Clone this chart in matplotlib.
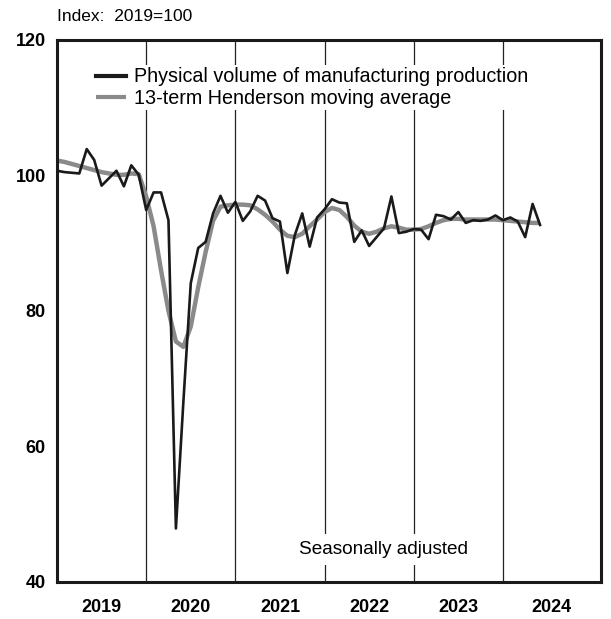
import numpy as np
import matplotlib
matplotlib.use('Agg')
import matplotlib.pyplot as plt

plt.rcParams['font.family'] = ['Liberation Sans', 'DejaVu Sans']

# monthly index, Jan 2019 .. Jun 2024
production = [100.7, 100.5, 100.4, 100.3, 103.9, 102.3, 98.5, 99.6, 100.7, 98.4, 101.5, 100.1,
              94.9, 97.5, 97.5, 93.4, 47.9, 66.5, 84.1, 89.3, 90.2, 94.4, 97.0, 94.5,
              96.1, 93.3, 94.7, 97.0, 96.3, 93.7, 93.2, 85.6, 91.2, 94.4, 89.5, 93.8,
              95.0, 96.5, 96.0, 95.9, 90.2, 91.9, 89.6, 90.9, 92.2, 96.9, 91.5, 91.7,
              92.1, 92.0, 90.6, 94.2, 94.0, 93.5, 94.6, 93.0, 93.4, 93.3, 93.5, 94.1,
              93.4, 93.8, 93.2, 90.9, 95.8, 92.7]
henderson = [102.2, 102.0, 101.7, 101.4, 101.1, 100.8, 100.5, 100.3, 100.1, 100.1, 100.3, 100.2,
             96.9, 92.5, 86.0, 80.0, 75.5, 74.7, 77.7, 83.5, 88.7, 93.3, 95.4, 95.6,
             95.7, 95.7, 95.6, 95.0, 94.2, 93.2, 92.0, 91.1, 90.9, 91.4, 92.5, 93.5,
             94.6, 95.2, 94.9, 93.9, 92.6, 91.7, 91.4, 91.7, 92.2, 92.5, 92.3, 92.0,
             92.0, 92.1, 92.5, 93.0, 93.4, 93.6, 93.6, 93.5, 93.5, 93.5, 93.5, 93.5,
             93.4, 93.3, 93.2, 93.1, 93.0, 93.0]
years = [2019, 2020, 2021, 2022, 2023, 2024]
yticks = [40, 60, 80, 100, 120]

t = 2019 + np.arange(len(production)) / 12.0
xmax = 2025.1

fig = plt.figure(figsize=(6.11, 6.19), dpi=100)
ax = fig.add_axes([0.0933, 0.0598, 0.8903, 0.8756])

for yr in years[1:]:
    ax.axvline(yr, color='#222222', lw=0.9, zorder=1)

ax.plot(t, henderson, color='#8a8a8a', lw=3.2, solid_capstyle='butt', zorder=2,
        label='13-term Henderson moving average')
ax.plot(t, production, color='#1a1a1a', lw=1.9, zorder=3,
        label='Physical volume of manufacturing production')

ax.set_xlim(2019, xmax)
ax.set_ylim(40, 120)
ax.set_yticks(yticks)
ax.set_yticklabels([str(v) for v in yticks], fontsize=13, fontweight='bold')
centres = [y + 0.5 for y in years[:-1]] + [(years[-1] + xmax) / 2]
ax.set_xticks(centres)
ax.set_xticklabels([str(y) for y in years], fontsize=13, fontweight='bold')
ax.tick_params(length=0)
ax.tick_params(axis='x', pad=12)
ax.tick_params(axis='y', pad=8)
for s in ax.spines.values():
    s.set_linewidth(2.2)
    s.set_color('#1a1a1a')

h, l = ax.get_legend_handles_labels()
leg = ax.legend(h[::-1], l[::-1], loc='upper left', bbox_to_anchor=(0.068, 0.953),
                frameon=True, fontsize=14.2, handlelength=1.5, handletextpad=0.45,
                labelspacing=0.15, borderpad=0.1, borderaxespad=0)
leg.get_frame().set_facecolor('white')
leg.get_frame().set_edgecolor('none')
leg.get_frame().set_alpha(1)
for line in leg.get_lines():
    line.set_linewidth(3)

ax.text(0.601, 0.06, 'Seasonally adjusted', transform=ax.transAxes, ha='center', va='center',
        fontsize=13.7, bbox=dict(facecolor='white', edgecolor='none', pad=5))
fig.text(0.094, 0.974, 'Index:  2019=100', ha='left', va='center', fontsize=12.5)

fig.savefig('out.png', dpi=100)
